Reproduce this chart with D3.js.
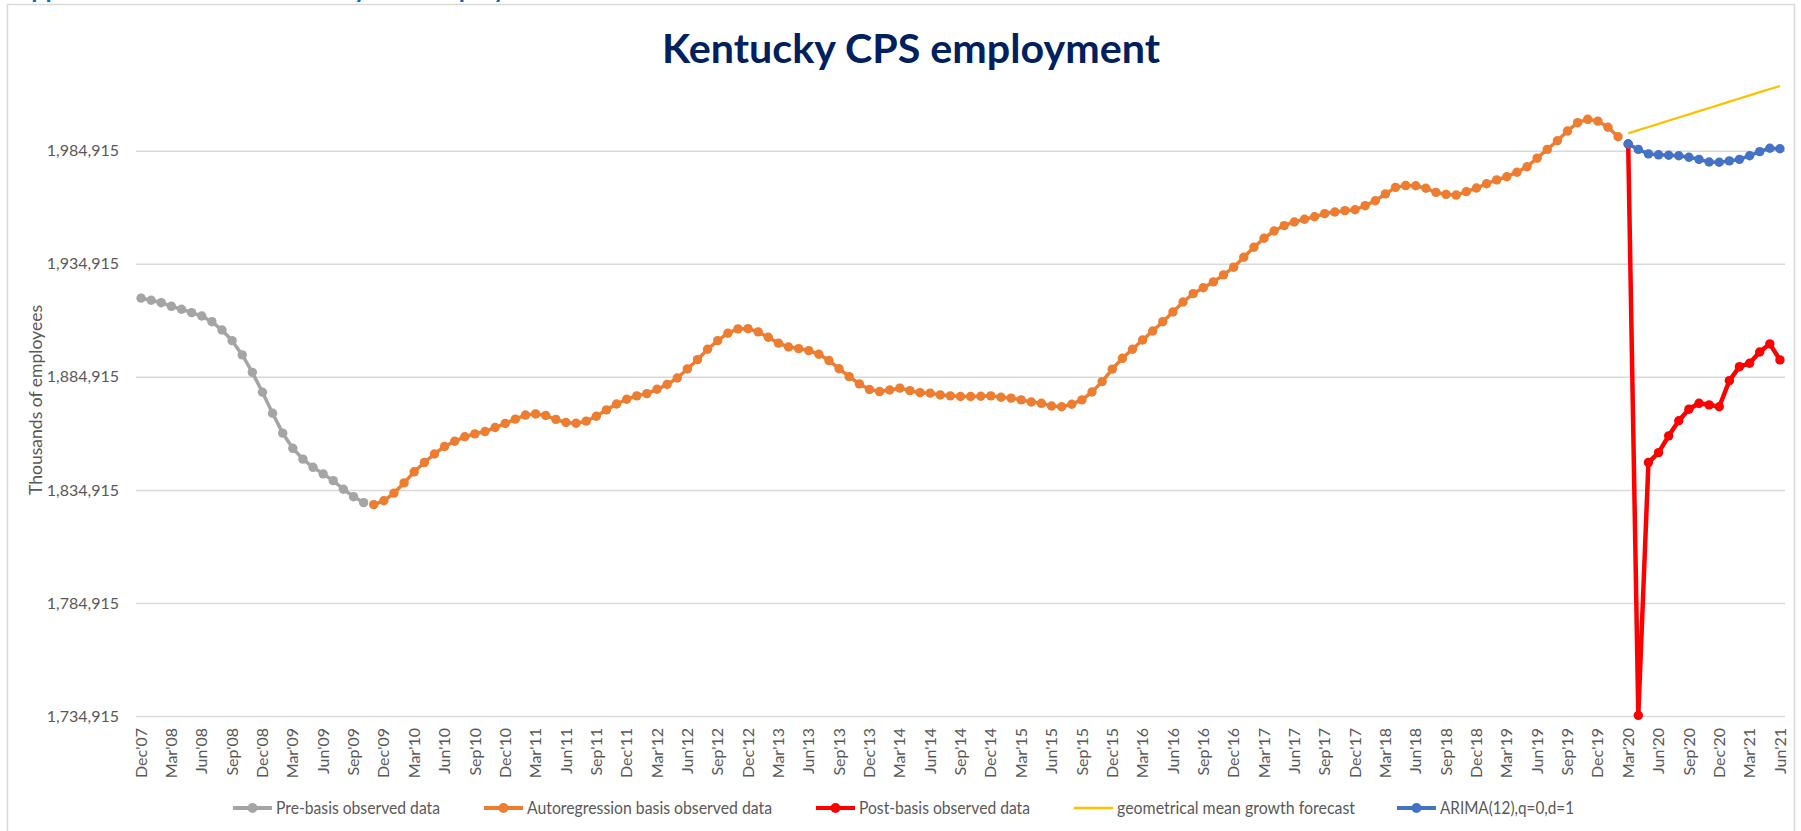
<!DOCTYPE html>
<html>
<head>
<meta charset="utf-8">
<script src="https://cdn.jsdelivr.net/npm/d3@7"></script>
<style>
  body { margin: 0; background: #fff; }
  text { font-family: Lato, "Open Sans", sans-serif; }
</style>
</head>
<body>
<script>
// monthly categories, Dec'07 .. Jun'21
const firstMonth = new Date(2007, 11, 1);
const lastMonth = new Date(2021, 5, 1);

const yTicks = [1734915, 1784915, 1834915, 1884915, 1934915, 1984915];

// Dec'07 - Oct'09
const preBasis = [1919700, 1918800, 1917700, 1916100, 1914800, 1913300, 1911800, 1909300,
  1905600, 1900900, 1894600, 1886900, 1878100, 1868800, 1860000, 1853300, 1848500,
  1844900, 1842000, 1839000, 1835200, 1831900, 1829300];

// Nov'09 - Feb'20
const arBasis = [1828400, 1830100, 1833500, 1838000, 1842900, 1847000, 1850800, 1854100,
  1856400, 1858400, 1859700, 1860700, 1862500, 1864300, 1866200, 1868000, 1868500,
  1867800, 1866100, 1864700, 1864400, 1865300, 1867500, 1870300, 1872900, 1875000,
  1876500, 1877500, 1879400, 1881500, 1884400, 1888400, 1892500, 1897100, 1900900,
  1904200, 1906100, 1906200, 1904800, 1902400, 1899800, 1898100, 1897400, 1896500,
  1894900, 1892100, 1888500, 1885000, 1881800, 1879300, 1878400, 1879100, 1879900,
  1878800, 1877900, 1877700, 1876900, 1876500, 1876200, 1876200, 1876300, 1876500,
  1875900, 1875500, 1874700, 1873800, 1873200, 1872000, 1871700, 1872800, 1874700,
  1878200, 1882800, 1888300, 1893100, 1897100, 1901200, 1905200, 1909300, 1913600,
  1918000, 1921700, 1924300, 1926900, 1930000, 1933400, 1937800, 1942200, 1946200,
  1949400, 1951800, 1953400, 1954600, 1955700, 1957100, 1957800, 1958400, 1958800,
  1960600, 1962800, 1965800, 1968700, 1969500, 1969400, 1968300, 1966500, 1965600,
  1965300, 1966800, 1968400, 1970300, 1972000, 1973400, 1975400, 1977800, 1981600,
  1985500, 1989300, 1993600, 1997300, 1998800, 1998000, 1995300, 1991100];

// Mar'20 - Jun'21
const postBasis = [1987900, 1735200, 1847000, 1851400, 1858800, 1865500, 1870600, 1873200,
  1872500, 1871700, 1883200, 1889400, 1890900, 1895900, 1899500, 1892400];
const geoForecast = [1992600, 1994000, 1995400, 1996800, 1998200, 1999600, 2001000, 2002400,
  2003800, 2005200, 2006600, 2008000, 2009400, 2010800, 2012200, 2013500];
const arima = [1987900, 1985500, 1983500, 1983100, 1982900, 1982700, 1982000, 1981100,
  1979900, 1979800, 1980400, 1981100, 1982700, 1984500, 1986000, 1985800];

const legendNames = ["Pre-basis observed data", "Autoregression basis observed data",
  "Post-basis observed data", "geometrical mean growth forecast", "ARIMA(12),q=0,d=1"];

const W = 1801, H = 831;
const left = 136, right = 1785, bottom = 716;
const gridStep = 113.06; // px per 50,000

const months = d3.timeMonth.range(firstMonth, d3.timeMonth.offset(lastMonth, 1));
const fmtMonth = d3.timeFormat("%b'%y");

const svg = d3.select("body").append("svg")
  .attr("width", W).attr("height", H);

svg.append("rect").attr("width", W).attr("height", H).attr("fill", "#fff");

// heading cut off above the chart (only descenders show)
svg.append("text")
  .attr("x", 14).attr("y", -2)
  .attr("font-size", 25).attr("font-weight", "bold")
  .attr("fill", "#0070C0")
  .text("Appendix A: Trends in Kentucky CPS employment");

// chart border
svg.append("rect")
  .attr("x", 7.5).attr("y", 4.5)
  .attr("width", 1787).attr("height", 900)
  .attr("fill", "#fff")
  .attr("stroke", "#d9d9d9").attr("stroke-width", 1.5);

const x = d3.scaleBand()
  .domain(months.map(d => +d))
  .range([left, right]);
const cx = i => x(+months[i]) + x.bandwidth() / 2;

const y = d3.scaleLinear()
  .domain([1734915, 1734915 + 6 * 50000])
  .range([bottom, bottom - 6 * gridStep]);

// y axis with gridlines
const yAxis = d3.axisLeft(y)
  .tickValues(yTicks)
  .tickSize(-(right - left))
  .tickPadding(17)
  .tickFormat(d3.format(","));

const gy = svg.append("g")
  .attr("transform", "translate(" + left + ",0)")
  .call(yAxis);
gy.select(".domain").remove();
gy.selectAll(".tick line").attr("stroke", "#d9d9d9").attr("stroke-width", 1.5);
gy.selectAll(".tick text")
  .attr("fill", "#595959")
  .attr("font-size", 16)
  .attr("font-family", "Lato, sans-serif");

// x axis labels, every quarter
const xAxis = d3.axisBottom(x)
  .tickValues(months.filter((d, i) => i % 3 === 0).map(d => +d))
  .tickSize(0)
  .tickFormat(d => fmtMonth(new Date(d)));

const gx = svg.append("g")
  .attr("transform", "translate(0," + bottom + ")")
  .call(xAxis);
gx.select(".domain").remove();
gx.selectAll(".tick text")
  .attr("fill", "#595959")
  .attr("font-size", 16)
  .attr("font-family", "Lato, sans-serif")
  .attr("text-anchor", "end")
  .attr("transform", "rotate(-90)")
  .attr("x", -12)
  .attr("y", 0)
  .attr("dy", "0.35em");

// y axis title
svg.append("text")
  .attr("transform", "translate(36,400) rotate(-90)")
  .attr("text-anchor", "middle")
  .attr("dy", "0.35em")
  .attr("font-size", 17)
  .attr("fill", "#595959")
  .attr("textLength", 190)
  .attr("lengthAdjust", "spacingAndGlyphs")
  .text("Thousands of employees");

// title
svg.append("text")
  .attr("x", 911).attr("y", 63)
  .attr("text-anchor", "middle")
  .attr("font-size", 41)
  .attr("font-weight", "bold")
  .attr("fill", "#002060")
  .attr("textLength", 498)
  .attr("lengthAdjust", "spacingAndGlyphs")
  .text("Kentucky CPS employment");

// series
const series = [
  { vals: preBasis, start: 0, color: "#A5A5A5", width: 3.5, r: 4.7 },
  { vals: arBasis, start: preBasis.length, color: "#ED7D31", width: 3.5, r: 4.7 },
  { vals: postBasis, start: preBasis.length + arBasis.length, color: "#FF0000", width: 4.5, r: 4.7 },
  { vals: geoForecast, start: preBasis.length + arBasis.length, color: "#FFC000", width: 2.25, r: 0 },
  { vals: arima, start: preBasis.length + arBasis.length, color: "#4472C4", width: 3.5, r: 4.7 }
];

const line = d3.line()
  .x(d => cx(d.i))
  .y(d => y(d.v));

series.forEach(s => {
  const pts = s.vals.map((v, k) => ({ i: s.start + k, v: v }));
  svg.append("path")
    .datum(pts)
    .attr("d", line)
    .attr("fill", "none")
    .attr("stroke", s.color)
    .attr("stroke-width", s.width)
    .attr("stroke-linejoin", "round");
  if (s.r > 0) {
    svg.append("g").selectAll("circle")
      .data(pts)
      .enter()
      .append("circle")
      .attr("cx", d => cx(d.i))
      .attr("cy", d => y(d.v))
      .attr("r", s.r)
      .attr("fill", s.color);
  }
});

// legend
const legendX = [233, 484, 816, 1074, 1397];
const legendW = [164, 245, 171, 238, 134];
const legendY = 808;
series.forEach((s, k) => {
  const g = svg.append("g").attr("transform", "translate(" + legendX[k] + "," + legendY + ")");
  g.append("line")
    .attr("x1", 0).attr("x2", 39)
    .attr("stroke", s.color)
    .attr("stroke-width", s.r > 0 ? 4 : 2.5);
  if (s.r > 0) {
    g.append("circle").attr("cx", 19.5).attr("r", 5).attr("fill", s.color);
  }
  g.append("text")
    .attr("x", 43)
    .attr("dy", "0.35em")
    .attr("font-size", 17)
    .attr("fill", "#595959")
    .attr("textLength", legendW[k])
    .attr("lengthAdjust", "spacingAndGlyphs")
    .text(legendNames[k]);
});
</script>
</body>
</html>
